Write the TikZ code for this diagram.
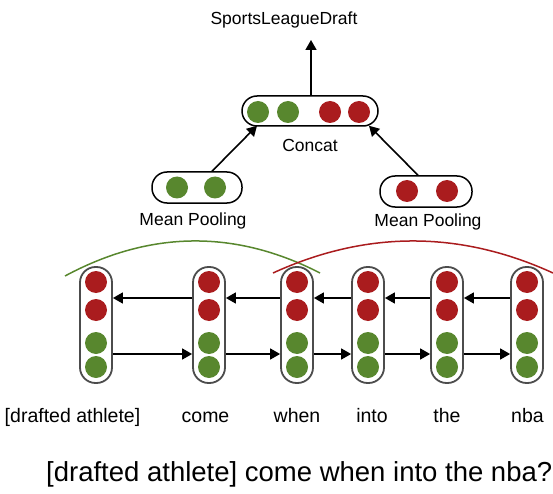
\documentclass[tikz,border=0pt]{standalone}
\usepackage{fontspec}
\setmainfont{Liberation Sans}
\usetikzlibrary{arrows.meta}
\definecolor{myred}{RGB}{170,28,30}
\definecolor{mygreen}{RGB}{88,135,46}
\begin{document}
\begin{tikzpicture}[x=1pt,y=-1pt,
  colbox/.style={draw=black!70,line width=1.8pt,fill=white,minimum width=32pt,minimum height=116pt,rounded corners=15.5pt,inner sep=0},
  poolbox/.style={draw=black,line width=1.5pt,fill=white,minimum height=31pt,rounded corners=15pt,inner sep=0},
  rdot/.style={circle,fill=myred,minimum size=22pt,inner sep=0},
  gdot/.style={circle,fill=mygreen,minimum size=22pt,inner sep=0},
  arr/.style={line width=1.6pt,-{Triangle[length=10pt,width=11pt]}},
  smalltxt/.style={inner sep=0,anchor=base,font=\fontsize{17.5}{21}\selectfont},
  wordtxt/.style={inner sep=0,anchor=base,font=\fontsize{19.5}{23}\selectfont},
  bigtxt/.style={inner sep=0,anchor=base west,font=\fontsize{27.5}{32}\selectfont}]
\useasboundingbox (0,0) rectangle (553,494);

% arcs
\coordinate (ga) at (65,276);
\coordinate (gb) at (320,273);
\coordinate (ra) at (273,273);
\coordinate (rb) at (553,273);
\draw[mygreen,line width=1.5pt] (ga) .. controls (150,230.3) and (235,229.3) .. (gb);
\draw[myred,line width=1.5pt] (ra) .. controls (366.3,230.3) and (459.7,230.3) .. (rb);

% columns
\foreach \i/\x in {1/96,2/209,3/297,4/368,5/447,6/527}{
  \node[colbox] (c\i) at (\x,325) {};
  \node[rdot] (r\i a) at (\x,282) {};
  \node[rdot] (r\i b) at (\x,310) {};
  \node[gdot] (g\i a) at (\x,343) {};
  \node[gdot] (g\i b) at (\x,367) {};
}

% recurrent arrows
\foreach \a/\b in {1/2,2/3,3/4,4/5,5/6}{
  \draw[arr] ([yshift=27pt]c\b.west) -- ([yshift=27pt]c\a.east);
  \draw[arr] ([yshift=-29pt]c\a.east) -- ([yshift=-29pt]c\b.west);
}

% word labels
\node[wordtxt] (w1) at (72.5,422) {[drafted athlete]};
\node[wordtxt] (w2) at (205.5,422) {come};
\node[wordtxt] (w3) at (297,422) {when};
\node[wordtxt] (w4) at (372,422) {into};
\node[wordtxt] (w5) at (447,422) {the};
\node[wordtxt] (w6) at (527.5,422) {nba};

% sentence
\node[bigtxt] (sent) at (46,481) {[drafted athlete] come when into the nba?};

% pooling
\node[poolbox,minimum width=90pt] (p1) at (197,187.5) {};
\node[gdot] (p1a) at (177,187.5) {};
\node[gdot] (p1b) at (215,187.5) {};
\node[smalltxt] (p1l) at (193,225) {Mean Pooling};

\node[poolbox,minimum width=92pt] (p2) at (426,191.5) {};
\node[rdot] (p2a) at (407,191) {};
\node[rdot] (p2b) at (447,191) {};
\node[smalltxt] (p2l) at (428,226.5) {Mean Pooling};

% concat
\node[poolbox,minimum width=136pt,minimum height=30pt] (cc) at (310,111) {};
\node[gdot] (cc1) at (258,112) {};
\node[gdot] (cc2) at (288,112) {};
\node[rdot] (cc3) at (330,112) {};
\node[rdot] (cc4) at (359,112) {};
\node[smalltxt] (ccl) at (310,151.5) {Concat};

\draw[arr] ([xshift=15pt]p1.north) -- ([xshift=-53pt,yshift=1pt]cc.south);
\draw[arr] ([xshift=-8pt]p2.north) -- ([xshift=59pt,yshift=1pt]cc.south);

% output
\coordinate (top) at (311,40);
\draw[arr] ([xshift=1pt]cc.north) -- (top);
\node[smalltxt] (out) at (284,25) {SportsLeagueDraft};
\end{tikzpicture}
\end{document}
